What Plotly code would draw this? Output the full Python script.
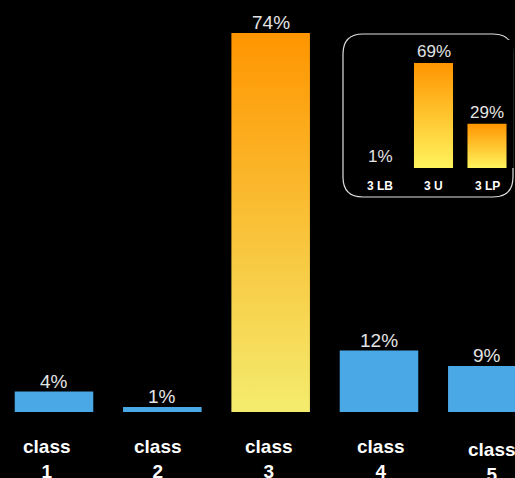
import plotly.graph_objects as go

# ---- data ----
categories = ["class 1", "class 2", "class 3", "class 4", "class 5"]
values = [4, 1, 74, 12, 9]
inset_categories = ["3 LB", "3 U", "3 LP"]
inset_values = [1, 69, 29]

BLUE = "#4BA8E6"
GRAD_MAIN = [[0, "#F4EC6E"], [1, "#FF9500"]]
GRAD_INSET = [[0, "#FFF45E"], [1, "#FF9500"]]
TXT = "#E4E4E4"
FONT = "Liberation Sans"

W_MAIN = 0.725
W_INSET = 0.73

W, H, B = 515, 478, 66
PH = H - B

fig = go.Figure()

xs = list(range(len(categories)))
colors = [BLUE if c != "class 3" else "rgba(0,0,0,0)" for c in categories]
fig.add_trace(go.Bar(
    x=xs, y=values, width=W_MAIN,
    marker=dict(color=colors, line=dict(width=0)),
    cliponaxis=False, hoverinfo="skip", xaxis="x", yaxis="y",
))

def grad_rect(i, v, w, scale, xa, ya):
    return go.Scatter(
        x=[i - w / 2, i + w / 2, i + w / 2, i - w / 2, i - w / 2],
        y=[0, 0, v, v, 0],
        mode="lines", line=dict(width=0), fill="toself",
        fillgradient=dict(type="vertical", colorscale=scale),
        hoverinfo="skip", xaxis=xa, yaxis=ya, showlegend=False,
    )

i3 = categories.index("class 3")
fig.add_trace(grad_rect(i3, values[i3], W_MAIN, GRAD_MAIN, "x", "y"))

ixs = list(range(len(inset_categories)))
for i, v in zip(ixs, inset_values):
    if v > 1:
        fig.add_trace(grad_rect(i, v, W_INSET, GRAD_INSET, "x2", "y2"))

annotations = []
# value labels
for i, v in zip(xs, values):
    annotations.append(dict(
        x=i, xref="x", xanchor="center", y=v, yref="y", yanchor="bottom",
        yshift=-1, borderpad=0, text=f"{v}%", showarrow=False,
        font=dict(family=FONT, size=19, color=TXT),
    ))
for i, v in zip(ixs, inset_values):
    annotations.append(dict(
        x=i, xref="x2", xanchor="center", y=v, yref="y2", yanchor="bottom",
        yshift=1 if v > 1 else -1,
        borderpad=0, text=f"{v}%", showarrow=False,
        font=dict(family=FONT, size=17, color=TXT),
    ))
# category labels
for i, c in enumerate(categories):
    word, num = c.split(" ")
    annotations.append(dict(
        x=(47 + 111.2 * i) / W, xref="paper", xanchor="center",
        y=0, yref="paper", yanchor="top",
        yshift=-22 - (3 if i == len(categories) - 1 else 0),
        text=f"<b>{word}<br>{num}</b>", showarrow=False,
        font=dict(family=FONT, size=19, color="#FFFFFF"),
    ))
for i, c in enumerate(inset_categories):
    annotations.append(dict(
        x=i, xref="x2", xanchor="center", y=0, yref="y2", yanchor="top",
        yshift=-9, text=f"<b>{c}</b>", showarrow=False,
        font=dict(family=FONT, size=12, color="#FFFFFF"),
    ))

# rounded inset frame (paper coords)
def px(x):
    return x / W
def py(y):
    return (PH - y) / PH
x0, x1, y0, y1, r = 343, 513, 34, 197, 20
path = (
    f"M {px(x0 + r)} {py(y0)} L {px(x1 - r)} {py(y0)} "
    f"Q {px(x1)} {py(y0)} {px(x1)} {py(y0 + r)} "
    f"L {px(x1)} {py(y1 - r)} Q {px(x1)} {py(y1)} {px(x1 - r)} {py(y1)} "
    f"L {px(x0 + r)} {py(y1)} Q {px(x0)} {py(y1)} {px(x0)} {py(y1 - r)} "
    f"L {px(x0)} {py(y0 + r)} Q {px(x0)} {py(y0)} {px(x0 + r)} {py(y0)} Z"
)

sp = 108.33
fig.update_layout(
    width=W, height=H,
    margin=dict(l=0, r=0, t=0, b=B),
    paper_bgcolor="#000000", plot_bgcolor="#000000",
    showlegend=False, barmode="overlay",
    xaxis=dict(range=[-54 / sp, (W - 54) / sp], visible=False, domain=[0, 1]),
    yaxis=dict(range=[0, PH / 5.12], visible=False, domain=[0, 1]),
    xaxis2=dict(range=[-0.5, 2.5], visible=False,
                domain=[353.25 / W, 513.75 / W], anchor="y2"),
    yaxis2=dict(range=[0, 128 / 1.522], visible=False,
                domain=[py(168), py(40)], anchor="x2"),
    shapes=[dict(type="path", path=path, xref="paper", yref="paper",
                 line=dict(color="#E0E0E0", width=1.2), layer="below")],
    annotations=annotations,
)

fig.write_html(
    "out.html",
    config={"displayModeBar": False},
    post_script=(
        "document.body.style.margin='0';document.body.style.padding='0';"
        "document.body.style.overflow='hidden';"
        "document.body.style.background='#000';"
    ),
)
